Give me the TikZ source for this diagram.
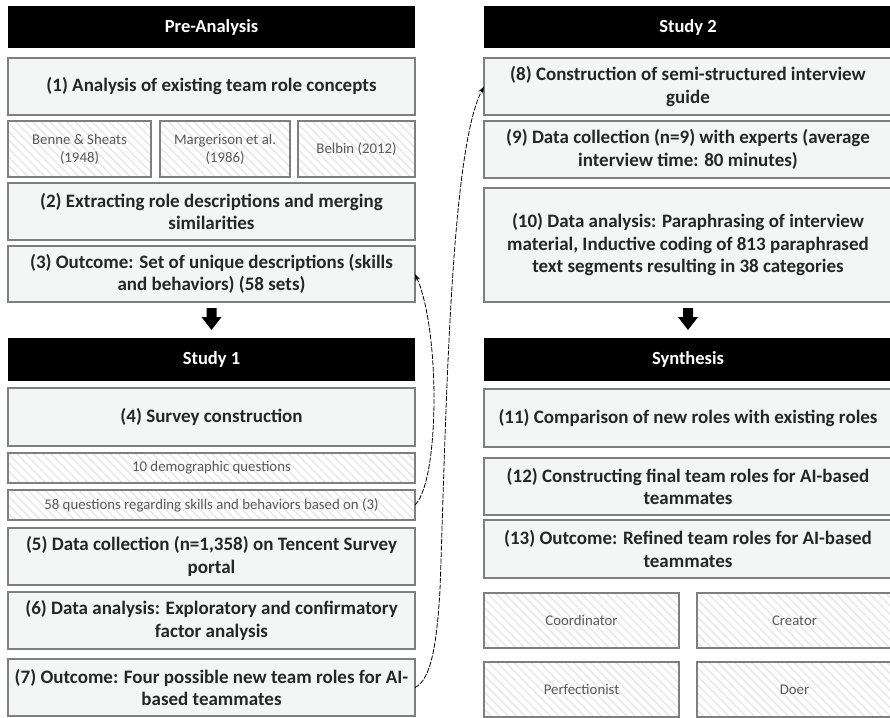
\documentclass[tikz,border=0pt]{standalone}
\usepackage{fontspec}
\setmainfont{Carlito}
\usetikzlibrary{patterns.meta,arrows.meta,calc}
\definecolor{boxfill}{HTML}{F4F5F5}
\definecolor{boxdraw}{HTML}{7F7F7F}
\definecolor{txt}{HTML}{262626}
\definecolor{htxt}{HTML}{595959}
\definecolor{hatch}{HTML}{E6E6E6}
\newcommand\mybox[7]{\node[#1, minimum width={#4-#2}, minimum height={#5-#3}] (#6) at ({(#2+#4)/2},{(#3+#5)/2}) {#7};}
\begin{document}
\begin{tikzpicture}[x=1pt,y=-1pt,
  every node/.style={inner sep=0pt, outer sep=0pt},
  mainbox/.style={draw=boxdraw, line width=1.3pt, fill=boxfill, text=txt,
    font=\fontsize{19}{22.5}\selectfont\bfseries, align=center},
  hdr/.style={fill=black, text=white, font=\fontsize{18.5}{21}\selectfont\bfseries, align=center},
  hatchbox/.style={preaction={fill=white}, pattern={Lines[angle=-45,distance=6pt,line width=1.3pt]}, pattern color=hatch,
    draw=boxdraw, line width=1.3pt,
    text=htxt, font=\fontsize{14.8}{18}\selectfont, align=center},
  curvearrow/.style={line width=0.8pt, dash pattern=on 5pt off 1.5pt, -{Stealth[length=7pt,width=5pt]}},
  blockarrow/.style={fill=black}
  ]
\useasboundingbox (0,0) rectangle (890,717);
% left column
\mybox{hdr}{8}{6}{415}{48}{hA}{Pre-Analysis}
\mybox{mainbox}{8}{58}{415}{115}{b1}{(1) Analysis of existing team role concepts}
\mybox{hatchbox}{8}{121}{151}{177}{r1}{Benne \& Sheats\\(1948)}
\mybox{hatchbox}{160}{121}{290}{177}{r2}{Margerison et al.\\(1986)}
\mybox{hatchbox}{298}{121}{415}{177}{r3}{Belbin (2012)}
\mybox{mainbox}{8}{183}{415}{240}{b2}{(2) Extracting role descriptions and merging\\similarities}
\mybox{mainbox}{8}{246}{415}{302}{b3}{(3) Outcome: Set of unique descriptions (skills\\and behaviors) (58 sets)}
\mybox{hdr}{8}{338}{415}{381}{h1}{Study 1}
\mybox{mainbox}{8}{388}{415}{446}{b4}{(4) Survey construction}
\mybox{hatchbox}{8}{453}{415}{483}{q10}{10 demographic questions}
\mybox{hatchbox}{8}{490}{415}{520}{q58}{58 questions regarding skills and behaviors based on (3)}
\mybox{mainbox}{8}{528}{415}{585}{b5}{(5) Data collection (n=1,358) on Tencent Survey\\portal}
\mybox{mainbox}{8}{592}{415}{649}{b6}{(6) Data analysis: Exploratory and confirmatory\\factor analysis}
\mybox{mainbox}{8}{659}{415}{716}{b7}{(7) Outcome: Four possible new team roles for AI-\\based teammates}
% right column
\mybox{hdr}{484}{6}{892}{48}{h2}{Study 2}
\mybox{mainbox}{484}{58}{892}{115}{b8}{(8) Construction of semi-structured interview\\guide}
\mybox{mainbox}{484}{121}{892}{178}{b9}{(9) Data collection (n=9) with experts (average\\interview time: 80 minutes)}
\mybox{mainbox}{484}{188}{892}{302}{b10}{(10) Data analysis: Paraphrasing of interview\\material, Inductive coding of 813 paraphrased\\text segments resulting in 38 categories}
\mybox{hdr}{484}{338}{892}{381}{hS}{Synthesis}
\mybox{mainbox}{484}{389}{892}{447}{b11}{(11) Comparison of new roles with existing roles}
\mybox{mainbox}{484}{458}{892}{515}{b12}{(12) Constructing final team roles for AI-based\\teammates}
\mybox{mainbox}{484}{520}{892}{578}{b13}{(13) Outcome: Refined team roles for AI-based\\teammates}
\mybox{hatchbox}{484}{593}{679}{648}{c1}{Coordinator}
\mybox{hatchbox}{697}{593}{892}{648}{c2}{Creator}
\mybox{hatchbox}{484}{662}{679}{717}{c3}{Perfectionist}
\mybox{hatchbox}{697}{662}{892}{717}{c4}{Doer}
% block arrows
\fill[blockarrow] ($(b3.south)+(-5,6)$) -- ++(10,0) -- ++(0,9) -- ++(5,0) -- ($(b3.south)+(0,28)$) -- ($(b3.south)+(-10,15)$) -- ++(5,0) -- cycle;
\fill[blockarrow] ($(b10.south)+(-5,6)$) -- ++(10,0) -- ++(0,9) -- ++(5,0) -- ($(b10.south)+(0,28)$) -- ($(b10.south)+(-10,15)$) -- ++(5,0) -- cycle;
% curved connectors
\draw[curvearrow] (q58.east) .. controls ($(q58.east)+(25,-25)$) and ($(b3.east)+(25,55)$) .. (b3.east);
\coordinate (m1) at (440,590);
\draw[curvearrow] (b7.east) .. controls ($(b7.east)+(17,-8)$) and ($(b7.east)+(22,-48)$) .. (m1)
  .. controls (446,420) and (450,150) .. (b8.west);
\end{tikzpicture}
\end{document}
